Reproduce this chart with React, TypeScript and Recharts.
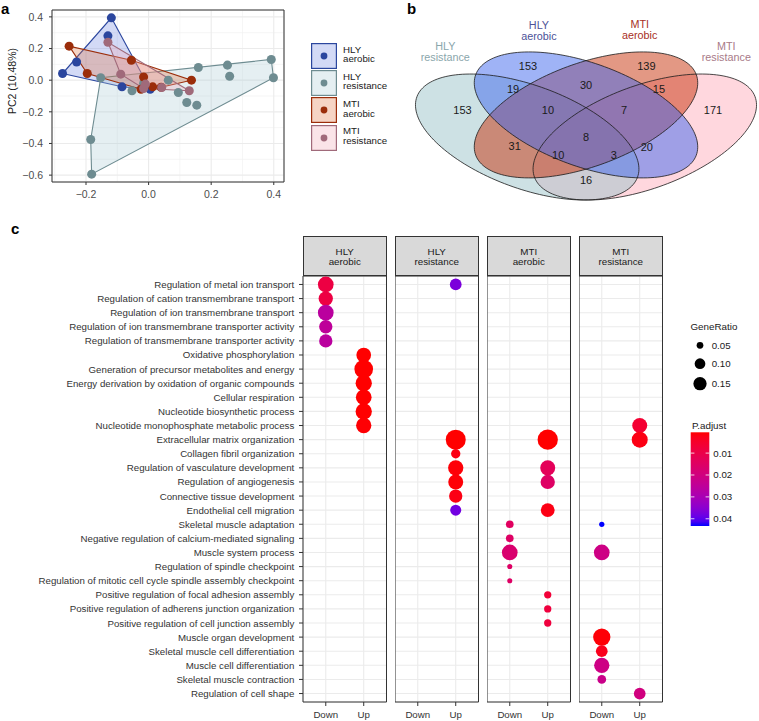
import React from "react";
import {
  ScatterChart,
  Scatter,
  XAxis,
  YAxis,
  ZAxis,
  CartesianGrid,
  ReferenceArea,
  Legend,
  Label,
} from "recharts";

const FONT = "'Liberation Sans', Arial, Helvetica, sans-serif";

// ---------------- panel a : PCA scores ----------------
const pcaGroups = ["HLY aerobic", "HLY resistance", "MTI aerobic", "MTI resistance"];

const hlyAerobicScores = [
  { pc1: -0.119, pc2: 0.394 },
  { pc1: -0.13, pc2: 0.28 },
  { pc1: -0.275, pc2: 0.042 },
  { pc1: -0.23, pc2: 0.115 },
  { pc1: -0.085, pc2: -0.042 },
  { pc1: 0.005, pc2: -0.058 },
];
const hlyResistanceScores = [
  { pc1: -0.185, pc2: -0.375 },
  { pc1: -0.182, pc2: -0.594 },
  { pc1: 0.392, pc2: 0.131 },
  { pc1: 0.399, pc2: 0.015 },
  { pc1: 0.252, pc2: 0.095 },
  { pc1: 0.259, pc2: 0.025 },
  { pc1: 0.159, pc2: 0.08 },
  { pc1: 0.122, pc2: -0.141 },
  { pc1: 0.154, pc2: -0.158 },
  { pc1: 0.095, pc2: -0.078 },
  { pc1: 0.063, pc2: 0.0 },
  { pc1: -0.053, pc2: -0.067 },
  { pc1: -0.016, pc2: -0.021 },
  { pc1: -0.153, pc2: 0.015 },
];
const mtiAerobicScores = [
  { pc1: -0.254, pc2: 0.215 },
  { pc1: -0.196, pc2: 0.042 },
  { pc1: -0.055, pc2: 0.126 },
  { pc1: 0.137, pc2: 0.0 },
  { pc1: -0.016, pc2: 0.02 },
  { pc1: -0.024, pc2: -0.057 },
  { pc1: 0.013, pc2: -0.042 },
  { pc1: 0.04, pc2: -0.045 },
];
const mtiResistanceScores = [
  { pc1: -0.13, pc2: 0.24 },
  { pc1: -0.089, pc2: 0.038 },
  { pc1: 0.13, pc2: -0.067 },
  { pc1: -0.016, pc2: -0.053 },
  { pc1: 0.042, pc2: -0.046 },
  { pc1: -0.01, pc2: -0.025 },
];
const pcaScores = [hlyAerobicScores, hlyResistanceScores, mtiAerobicScores, mtiResistanceScores];

const pcaXTicks = [-0.2, 0, 0.2, 0.4];
const pcaYTicks = [-0.6, -0.4, -0.2, 0, 0.2, 0.4];
const pcaXMinor = [-0.3, -0.1, 0.1, 0.3];
const pcaYMinor = [-0.5, -0.3, -0.1, 0.1, 0.3];

const pcaColors = ["#2B469E", "#6E8C91", "#9B2D0A", "#A06A7A"];
const pcaHullFills = ["#6C86E0", "#A9CBD3", "#E0703C", "#F0A5B4"];

// ---------------- panel b : Venn ----------------
const vennSets = ["HLY resistance", "HLY aerobic", "MTI aerobic", "MTI resistance"];
const vennCounts = [153, 153, 139, 171, 19, 30, 15, 10, 7, 8, 31, 10, 3, 20, 16];
// where each region count sits, in the diagram's unit square
const vennCountPos = [
  [0.185, 0.592], [0.352, 0.791], [0.654, 0.791], [0.824, 0.592],
  [0.314, 0.686], [0.5, 0.705], [0.686, 0.686], [0.403, 0.592],
  [0.597, 0.592], [0.5, 0.472], [0.318, 0.43], [0.429, 0.389],
  [0.571, 0.389], [0.655, 0.426], [0.5, 0.276],
];
const vennSetPos = [[0.141, 0.856], [0.38, 0.951], [0.637, 0.956], [0.858, 0.856]];
const vennEllipses = [
  { x: 0.35, y: 0.47, rot: -45 },
  { x: 0.5, y: 0.57, rot: -45 },
  { x: 0.5, y: 0.57, rot: 45 },
  { x: 0.65, y: 0.47, rot: 45 },
];
const vennFills = ["#9BC3CA", "#4068EE", "#C8320A", "#FFAFBD"];
const vennLabelColors = ["#8AA6AB", "#4C5298", "#A8301E", "#A87A88"];
const vennDrawOrder = [3, 0, 2, 1];
const VENN_A = 0.35;
const VENN_B = 0.2;
const VENN_W = 392; // px per unit, horizontal
const VENN_H = 221; // px per unit, vertical
const VENN_TOP = 1.09; // headroom above the unit square for set labels

// ---------------- panel c : GO enrichment ----------------
const goTerms = [
  "Regulation of metal ion transport",
  "Regulation of cation transmembrane transport",
  "Regulation of ion transmembrane transport",
  "Regulation of ion transmembrane transporter activity",
  "Regulation of transmembrane transporter activity",
  "Oxidative phosphorylation",
  "Generation of precursor metabolites and energy",
  "Energy derivation by oxidation of organic compounds",
  "Cellular respiration",
  "Nucleotide biosynthetic process",
  "Nucleotide monophosphate metabolic process",
  "Extracellular matrix organization",
  "Collagen fibril organization",
  "Regulation of vasculature development",
  "Regulation of angiogenesis",
  "Connective tissue development",
  "Endothelial cell migration",
  "Skeletal muscle adaptation",
  "Negative regulation of calcium-mediated signaling",
  "Muscle system process",
  "Regulation of spindle checkpoint",
  "Regulation of mitotic cell cycle spindle assembly checkpoint",
  "Positive regulation of focal adhesion assembly",
  "Positive regulation of adherens junction organization",
  "Positive regulation of cell junction assembly",
  "Muscle organ development",
  "Skeletal muscle cell differentiation",
  "Muscle cell differentiation",
  "Skeletal muscle contraction",
  "Regulation of cell shape",
];
const directions = ["Down", "Up"];

const hlyAerobicGo = [
  { term: "Regulation of metal ion transport", dir: "Down", ratio: 0.21, padj: 0.009 },
  { term: "Regulation of cation transmembrane transport", dir: "Down", ratio: 0.174, padj: 0.009 },
  { term: "Regulation of ion transmembrane transport", dir: "Down", ratio: 0.21, padj: 0.026 },
  { term: "Regulation of ion transmembrane transporter activity", dir: "Down", ratio: 0.151, padj: 0.025 },
  { term: "Regulation of transmembrane transporter activity", dir: "Down", ratio: 0.151, padj: 0.026 },
  { term: "Oxidative phosphorylation", dir: "Up", ratio: 0.184, padj: 0.0005 },
  { term: "Generation of precursor metabolites and energy", dir: "Up", ratio: 0.3, padj: 0.0005 },
  { term: "Energy derivation by oxidation of organic compounds", dir: "Up", ratio: 0.226, padj: 0.0005 },
  { term: "Cellular respiration", dir: "Up", ratio: 0.21, padj: 0.0005 },
  { term: "Nucleotide biosynthetic process", dir: "Up", ratio: 0.226, padj: 0.0006 },
  { term: "Nucleotide monophosphate metabolic process", dir: "Up", ratio: 0.199, padj: 0.0008 },
];
const hlyResistanceGo = [
  { term: "Regulation of metal ion transport", dir: "Up", ratio: 0.118, padj: 0.037 },
  { term: "Extracellular matrix organization", dir: "Up", ratio: 0.345, padj: 0.0005 },
  { term: "Collagen fibril organization", dir: "Up", ratio: 0.079, padj: 0.002 },
  { term: "Regulation of vasculature development", dir: "Up", ratio: 0.199, padj: 0.001 },
  { term: "Regulation of angiogenesis", dir: "Up", ratio: 0.191, padj: 0.001 },
  { term: "Connective tissue development", dir: "Up", ratio: 0.151, padj: 0.002 },
  { term: "Endothelial cell migration", dir: "Up", ratio: 0.105, padj: 0.038 },
];
const mtiAerobicGo = [
  { term: "Extracellular matrix organization", dir: "Up", ratio: 0.356, padj: 0.0005 },
  { term: "Regulation of vasculature development", dir: "Up", ratio: 0.191, padj: 0.013 },
  { term: "Regulation of angiogenesis", dir: "Up", ratio: 0.174, padj: 0.015 },
  { term: "Endothelial cell migration", dir: "Up", ratio: 0.16, padj: 0.002 },
  { term: "Skeletal muscle adaptation", dir: "Down", ratio: 0.059, padj: 0.014 },
  { term: "Negative regulation of calcium-mediated signaling", dir: "Down", ratio: 0.059, padj: 0.015 },
  { term: "Muscle system process", dir: "Down", ratio: 0.21, padj: 0.017 },
  { term: "Regulation of spindle checkpoint", dir: "Down", ratio: 0.039, padj: 0.015 },
  { term: "Regulation of mitotic cell cycle spindle assembly checkpoint", dir: "Down", ratio: 0.039, padj: 0.015 },
  { term: "Positive regulation of focal adhesion assembly", dir: "Up", ratio: 0.055, padj: 0.007 },
  { term: "Positive regulation of adherens junction organization", dir: "Up", ratio: 0.055, padj: 0.008 },
  { term: "Positive regulation of cell junction assembly", dir: "Up", ratio: 0.055, padj: 0.008 },
];
const mtiResistanceGo = [
  { term: "Nucleotide monophosphate metabolic process", dir: "Up", ratio: 0.191, padj: 0.006 },
  { term: "Extracellular matrix organization", dir: "Up", ratio: 0.218, padj: 0.002 },
  { term: "Skeletal muscle adaptation", dir: "Down", ratio: 0.04, padj: 0.0433 },
  { term: "Muscle system process", dir: "Down", ratio: 0.21, padj: 0.021 },
  { term: "Muscle organ development", dir: "Down", ratio: 0.256, padj: 0.001 },
  { term: "Skeletal muscle cell differentiation", dir: "Down", ratio: 0.118, padj: 0.003 },
  { term: "Muscle cell differentiation", dir: "Down", ratio: 0.199, padj: 0.021 },
  { term: "Skeletal muscle contraction", dir: "Down", ratio: 0.071, padj: 0.022 },
  { term: "Regulation of cell shape", dir: "Up", ratio: 0.118, padj: 0.02 },
];
const goFacets = [
  { title: ["HLY", "aerobic"], rows: hlyAerobicGo },
  { title: ["HLY", "resistance"], rows: hlyResistanceGo },
  { title: ["MTI", "aerobic"], rows: mtiAerobicGo },
  { title: ["MTI", "resistance"], rows: mtiResistanceGo },
];
const geneRatioBreaks = [0.05, 0.1, 0.15];
const padjBreaks = [0.01, 0.02, 0.03, 0.04];

// ---------------- helpers ----------------
type Pt = { pc1: number; pc2: number };

function convexHull(pts: Pt[]): Pt[] {
  const p = [...pts].sort((a, b) => a.pc1 - b.pc1 || a.pc2 - b.pc2);
  const cross = (o: Pt, a: Pt, b: Pt) =>
    (a.pc1 - o.pc1) * (b.pc2 - o.pc2) - (a.pc2 - o.pc2) * (b.pc1 - o.pc1);
  const lower: Pt[] = [];
  for (const q of p) {
    while (lower.length >= 2 && cross(lower[lower.length - 2], lower[lower.length - 1], q) <= 0) lower.pop();
    lower.push(q);
  }
  const upper: Pt[] = [];
  for (const q of [...p].reverse()) {
    while (upper.length >= 2 && cross(upper[upper.length - 2], upper[upper.length - 1], q) <= 0) upper.pop();
    upper.push(q);
  }
  return lower.slice(0, -1).concat(upper.slice(0, -1));
}

const expand = (vals: number[], f = 0.05): [number, number] => {
  const lo = Math.min(...vals);
  const hi = Math.max(...vals);
  const pad = (hi - lo) * f;
  return [lo - pad, hi + pad];
};

const fmtTick = (v: number) => (Math.abs(v) < 1e-9 ? "0.0" : v.toFixed(1).replace("-", "\u2212"));

// ggplot-like red -> blue gradient, interpolated in Lab
const toLin = (c: number) => {
  const v = c / 255;
  return v <= 0.04045 ? v / 12.92 : Math.pow((v + 0.055) / 1.055, 2.4);
};
const fromLin = (c: number) => {
  const v = c <= 0.0031308 ? 12.92 * c : 1.055 * Math.pow(c, 1 / 2.4) - 0.055;
  return Math.round(Math.max(0, Math.min(1, v)) * 255);
};
function rgbToLab(rgb: number[]) {
  const [r, g, b] = rgb.map(toLin);
  const x = (0.4124 * r + 0.3576 * g + 0.1805 * b) / 0.95047;
  const y = 0.2126 * r + 0.7152 * g + 0.0722 * b;
  const z = (0.0193 * r + 0.1192 * g + 0.9505 * b) / 1.08883;
  const f = (t: number) => (t > 0.008856 ? Math.cbrt(t) : 7.787 * t + 16 / 116);
  return [116 * f(y) - 16, 500 * (f(x) - f(y)), 200 * (f(y) - f(z))];
}
function labToHex(lab: number[]) {
  const fy = (lab[0] + 16) / 116;
  const fx = fy + lab[1] / 500;
  const fz = fy - lab[2] / 200;
  const inv = (t: number) => (t * t * t > 0.008856 ? t * t * t : (t - 16 / 116) / 7.787);
  const x = 0.95047 * inv(fx);
  const y = inv(fy);
  const z = 1.08883 * inv(fz);
  const r = fromLin(3.2406 * x - 1.5372 * y - 0.4986 * z);
  const g = fromLin(-0.9689 * x + 1.8758 * y + 0.0415 * z);
  const b = fromLin(0.0557 * x - 0.204 * y + 1.057 * z);
  return "#" + [r, g, b].map((c) => c.toString(16).padStart(2, "0")).join("");
}
const LAB_LOW = rgbToLab([255, 0, 0]);
const LAB_HIGH = rgbToLab([0, 0, 255]);
const allPadj = goFacets.flatMap((f) => f.rows.map((r) => r.padj));
const P_MIN = Math.min(...allPadj);
const P_MAX = Math.max(...allPadj);
const padjColor = (p: number) => {
  const t = Math.max(0, Math.min(1, (p - P_MIN) / (P_MAX - P_MIN)));
  return labToHex(LAB_LOW.map((v, i) => v + (LAB_HIGH[i] - v) * t));
};

// dot diameter for a gene ratio (area-style size scale)
const SIZE_FLOOR = 0.033;
const dotDiameter = (v: number) => 2.67 + 31 * Math.sqrt(Math.max(0, v - SIZE_FLOOR));

// ---------------- panel a ----------------
const pcaXDom = expand(pcaScores.flat().map((d) => d.pc1));
const pcaYDom = expand(pcaScores.flat().map((d) => d.pc2));

const axisText = { fontSize: 10.5, fill: "#4d4d4d", fontFamily: FONT };

function PcaLegend() {
  return (
    <div style={{ fontFamily: FONT, fontSize: 9.7, color: "#1a1a1a" }}>
      {pcaGroups.map((g, i) => {
        const [l1, l2] = g.split(" ");
        return (
          <div key={g} style={{ display: "flex", alignItems: "center", height: 27.3 }}>
            <svg width={26} height={26} style={{ display: "block" }}>
              <rect x={0.6} y={0.6} width={24.8} height={24.8} fill="#fff" />
              <rect
                x={0.6}
                y={0.6}
                width={24.8}
                height={24.8}
                fill={pcaHullFills[i]}
                fillOpacity={0.3}
                stroke={pcaColors[i]}
                strokeWidth={1.2}
              />
              <circle cx={13} cy={13} r={3.4} fill={pcaColors[i]} />
            </svg>
            <div style={{ marginLeft: 6, lineHeight: "9.6px", marginTop: -3 }}>
              {l1}
              <br />
              {l2}
            </div>
          </div>
        );
      })}
    </div>
  );
}

function PcaPanel() {
  return (
    <ScatterChart width={420} height={205} margin={{ top: 10, right: 136, bottom: 0, left: 0 }}>
      <XAxis xAxisId="minor" type="number" dataKey="pc1" domain={pcaXDom} ticks={pcaXMinor} allowDataOverflow hide />
      <YAxis yAxisId="minor" type="number" dataKey="pc2" domain={pcaYDom} ticks={pcaYMinor} allowDataOverflow hide />
      <CartesianGrid xAxisId="minor" yAxisId="minor" stroke="#EFEFEF" strokeWidth={0.6} />
      <CartesianGrid stroke="#EBEBEB" strokeWidth={1.1} />
      <XAxis
        type="number"
        dataKey="pc1"
        domain={pcaXDom}
        ticks={pcaXTicks}
        interval={0}
        allowDataOverflow
        tickFormatter={fmtTick}
        axisLine={false}
        tickSize={3}
        tickMargin={6}
        tickLine={{ stroke: "#333" }}
        tick={axisText}
        height={23}
      />
      <YAxis
        type="number"
        dataKey="pc2"
        domain={pcaYDom}
        ticks={pcaYTicks}
        interval={0}
        allowDataOverflow
        tickFormatter={fmtTick}
        axisLine={false}
        tickSize={3}
        tickMargin={6}
        tickLine={{ stroke: "#333" }}
        tick={axisText}
        width={52}
        label={
          <Label
            content={(p: any) => {
              const vb = p.viewBox || { x: 0, y: 10, width: 52, height: 172 };
              const cx = vb.x + 12;
              const cy = vb.y + vb.height / 2 - 15;
              return (
                <text
                  transform={`translate(${cx},${cy}) rotate(-90)`}
                  textAnchor="middle"
                  dominantBaseline="central"
                  fontSize={10.5}
                  fill="#1a1a1a"
                  fontFamily={FONT}
                >
                  PC2 (10.48%)
                </text>
              );
            }}
          />
        }
      />
      <ZAxis range={[36, 36]} />
      {pcaScores.map((pts, i) => (
        <Scatter
          key={"hull" + i}
          data={convexHull(pts)}
          fill={pcaColors[i]}
          line={{ stroke: pcaColors[i], strokeWidth: 1.1, fill: pcaHullFills[i], fillOpacity: 0.3 }}
          lineType="joint"
          lineJointType="linearClosed"
          shape={() => <g />}
          isAnimationActive={false}
        />
      ))}
      {pcaScores.map((pts, i) => (
        <Scatter key={"pts" + i} data={pts} fill={pcaColors[i]} shape="circle" isAnimationActive={false} />
      ))}
      <ReferenceArea
        x1={pcaXDom[0]}
        x2={pcaXDom[1]}
        y1={pcaYDom[0]}
        y2={pcaYDom[1]}
        fill="none"
        fillOpacity={0}
        stroke="#333"
        strokeWidth={1}
        ifOverflow="visible"
      />
      <Legend
        layout="vertical"
        align="center"
        verticalAlign="middle"
        wrapperStyle={{ left: 311, top: 42, width: 105 }}
        content={() => <PcaLegend />}
      />
    </ScatterChart>
  );
}

// ---------------- panel b ----------------
function ellipsePath(cx: number, cy: number, rot: number) {
  const phi = (rot * Math.PI) / 180;
  let d = "";
  for (let i = 0; i <= 160; i++) {
    const t = (i / 160) * 2 * Math.PI;
    const dx = VENN_A * Math.cos(phi) * Math.cos(t) - VENN_B * Math.sin(phi) * Math.sin(t);
    const dy = VENN_A * Math.sin(phi) * Math.cos(t) + VENN_B * Math.cos(phi) * Math.sin(t);
    d += (i ? "L" : "M") + (cx + dx * VENN_W).toFixed(2) + "," + (cy - dy * VENN_H).toFixed(2);
  }
  return d + "Z";
}

function VennPanel() {
  const fillData = vennDrawOrder.map((i) => ({ ...vennEllipses[i], set: i }));
  const outlineData = vennEllipses.map((e, i) => ({ ...e, set: i }));
  const countData = vennCounts.map((n, i) => ({ x: vennCountPos[i][0], y: vennCountPos[i][1], n }));
  const setData = vennSets.map((s, i) => ({ x: vennSetPos[i][0], y: vennSetPos[i][1], s, set: i }));
  return (
    <ScatterChart width={VENN_W} height={VENN_H * VENN_TOP} margin={{ top: 0, right: 0, bottom: 0, left: 0 }}>
      <XAxis type="number" dataKey="x" domain={[0, 1]} allowDataOverflow hide />
      <YAxis type="number" dataKey="y" domain={[0, VENN_TOP]} allowDataOverflow hide />
      <Scatter
        data={fillData}
        isAnimationActive={false}
        shape={(p: any) => (
          <path
            d={ellipsePath(p.cx, p.cy, p.payload.rot)}
            fill={vennFills[p.payload.set]}
            fillOpacity={0.5}
            stroke="none"
          />
        )}
      />
      <Scatter
        data={outlineData}
        isAnimationActive={false}
        shape={(p: any) => (
          <path d={ellipsePath(p.cx, p.cy, p.payload.rot)} fill="none" stroke="#1a1a1a" strokeWidth={0.8} />
        )}
      />
      <Scatter
        data={countData}
        isAnimationActive={false}
        shape={(p: any) => (
          <text
            x={p.cx}
            y={p.cy}
            textAnchor="middle"
            dominantBaseline="central"
            fontSize={11}
            fill="#1a1a1a"
            fontFamily={FONT}
          >
            {p.payload.n}
          </text>
        )}
      />
      <Scatter
        data={setData}
        isAnimationActive={false}
        shape={(p: any) => {
          const [l1, l2] = p.payload.s.split(" ");
          return (
            <text textAnchor="middle" fontSize={10.8} fill={vennLabelColors[p.payload.set]} fontFamily={FONT}>
              <tspan x={p.cx} y={p.cy - 5.6} dominantBaseline="central">
                {l1}
              </tspan>
              <tspan x={p.cx} y={p.cy + 5.6} dominantBaseline="central">
                {l2}
              </tspan>
            </text>
          );
        }}
      />
    </ScatterChart>
  );
}

// ---------------- panel c ----------------
const FACET_LEFTS = [303, 395, 487, 579];
const FACET_W = 83.5;
const FACET_TOP = 276;
const FACET_PLOT_H = 426;
const FACET_X_H = 19;
const rowTicks = goTerms.map((_, i) => i + 1);
const dirTicks = [1, 2];
const goText = { fontSize: 9.7, fill: "#333", fontFamily: FONT };

// single-line category tick (no word wrapping)
const TermTick = (p: any) => (
  <text
    x={p.x}
    y={p.y}
    textAnchor="end"
    dominantBaseline="central"
    fontSize={goText.fontSize}
    fill={goText.fill}
    fontFamily={FONT}
  >
    {goTerms[p.payload.value - 1]}
  </text>
);

function GoLegend() {
  const x0 = 0;
  const barTop = 116.3;
  const pxPer = 93.7 / (P_MAX - P_MIN);
  const stops = Array.from({ length: 21 }, (_, k) => {
    const p = P_MIN + ((P_MAX - P_MIN) * k) / 20;
    return { off: k / 20, c: padjColor(p) };
  });
  const dotY = [29.3, 47.7, 67.7];
  return (
    <svg width={75} height={220} style={{ display: "block", overflow: "visible" }}>
      <defs>
        <linearGradient id="padjGrad" x1="0" y1="0" x2="0" y2="1">
          {stops.map((s) => (
            <stop key={s.off} offset={s.off} stopColor={s.c} />
          ))}
        </linearGradient>
      </defs>
      <text x={x0 + 4.5} y={10} dominantBaseline="central" fontSize={9.8} fill="#1a1a1a" fontFamily={FONT}>
        GeneRatio
      </text>
      {geneRatioBreaks.map((v, i) => (
        <g key={v}>
          <circle cx={x0 + 14} cy={dotY[i]} r={dotDiameter(v) / 2} fill="#000" />
          <text x={x0 + 25.7} y={dotY[i]} dominantBaseline="central" fontSize={9.7} fill="#1a1a1a" fontFamily={FONT}>
            {v.toFixed(2)}
          </text>
        </g>
      ))}
      <text x={x0 + 6} y={109} dominantBaseline="central" fontSize={9.8} fill="#1a1a1a" fontFamily={FONT}>
        P.adjust
      </text>
      <rect x={x0 + 4.7} y={barTop} width={18.6} height={93.7} fill="url(#padjGrad)" />
      {padjBreaks.map((v) => {
        const y = barTop + (v - P_MIN) * pxPer;
        return (
          <g key={v}>
            <line x1={x0 + 4.7} x2={x0 + 8.4} y1={y} y2={y} stroke="#fff" strokeWidth={0.8} />
            <line x1={x0 + 19.6} x2={x0 + 23.3} y1={y} y2={y} stroke="#fff" strokeWidth={0.8} />
            <text x={x0 + 27.3} y={y} dominantBaseline="central" fontSize={9.7} fill="#1a1a1a" fontFamily={FONT}>
              {v.toFixed(2)}
            </text>
          </g>
        );
      })}
    </svg>
  );
}

function GoFacet({ idx }: { idx: number }) {
  const facet = goFacets[idx];
  const first = idx === 0;
  const data = facet.rows.map((r) => ({
    dirPos: directions.indexOf(r.dir) + 1,
    row: goTerms.indexOf(r.term) + 1,
    ratio: r.ratio,
    padj: r.padj,
  }));
  const yW = first ? FACET_LEFTS[0] : 0;
  return (
    <ScatterChart
      width={yW + FACET_W}
      height={FACET_PLOT_H + FACET_X_H}
      margin={{ top: 0, right: 0, bottom: 0, left: 0 }}
    >
      <CartesianGrid stroke="#EBEBEB" strokeWidth={1.1} />
      <XAxis
        type="number"
        dataKey="dirPos"
        domain={[0.4, 2.6]}
        ticks={dirTicks}
        interval={0}
        allowDataOverflow
        tickFormatter={(v: number) => directions[v - 1]}
        axisLine={false}
        tickSize={4}
        tickMargin={5}
        tickLine={{ stroke: "#333" }}
        tick={goText}
        height={FACET_X_H}
      />
      <YAxis
        type="number"
        dataKey="row"
        domain={[0.4, goTerms.length + 0.6]}
        ticks={rowTicks}
        interval={0}
        reversed
        allowDataOverflow
        hide={!first}
        width={yW}
        axisLine={false}
        tickSize={4}
        tickMargin={4.7}
        tickLine={{ stroke: "#333" }}
        tick={TermTick}
      />
      <Scatter
        data={data}
        isAnimationActive={false}
        shape={(p: any) => (
          <circle cx={p.cx} cy={p.cy} r={dotDiameter(p.payload.ratio) / 2} fill={padjColor(p.payload.padj)} />
        )}
      />
      <ReferenceArea
        x1={0.4}
        x2={2.6}
        y1={0.4}
        y2={goTerms.length + 0.6}
        fill="none"
        fillOpacity={0}
        stroke="#333"
        strokeWidth={1}
        ifOverflow="visible"
      />
      {idx === 3 && (
        <Legend
          layout="vertical"
          align="center"
          verticalAlign="middle"
          wrapperStyle={{ left: 686 - FACET_LEFTS[3], top: 316 - FACET_TOP, width: 75 }}
          content={() => <GoLegend />}
        />
      )}
    </ScatterChart>
  );
}

function Strip({ idx }: { idx: number }) {
  const [l1, l2] = goFacets[idx].title;
  return (
    <div
      style={{
        position: "absolute",
        left: FACET_LEFTS[idx],
        top: 235.5,
        width: FACET_W,
        height: 40.5,
        boxSizing: "border-box",
        background: "#D9D9D9",
        border: "1px solid #333",
        display: "flex",
        flexDirection: "column",
        alignItems: "center",
        justifyContent: "center",
        fontSize: 9.8,
        lineHeight: "10px",
        color: "#1a1a1a",
        paddingTop: 3,
      }}
    >
      <div>{l1}</div>
      <div>{l2}</div>
    </div>
  );
}

const panelLetter: React.CSSProperties = {
  position: "absolute",
  fontWeight: "bold",
  fontSize: 15,
  lineHeight: "16px",
  color: "#000",
};

export default function App() {
  return (
    <div
      style={{
        position: "absolute",
        left: 0,
        top: 0,
        width: 759,
        height: 721,
        overflow: "hidden",
        background: "#fff",
        fontFamily: FONT,
      }}
    >
      <div style={{ position: "absolute", left: 0, top: 0 }}>
        <PcaPanel />
      </div>
      <div style={{ position: "absolute", left: 390, top: 241 - VENN_H * VENN_TOP }}>
        <VennPanel />
      </div>
      {[0, 1, 2, 3].map((i) => (
        <div key={i} style={{ position: "absolute", left: i === 0 ? 0 : FACET_LEFTS[i], top: FACET_TOP }}>
          <GoFacet idx={i} />
        </div>
      ))}
      {[0, 1, 2, 3].map((i) => (
        <Strip key={"s" + i} idx={i} />
      ))}
      <div style={{ ...panelLetter, left: 1, top: 1 }}>a</div>
      <div style={{ ...panelLetter, left: 407, top: 1 }}>b</div>
      <div style={{ ...panelLetter, left: 11, top: 221 }}>c</div>
    </div>
  );
}
